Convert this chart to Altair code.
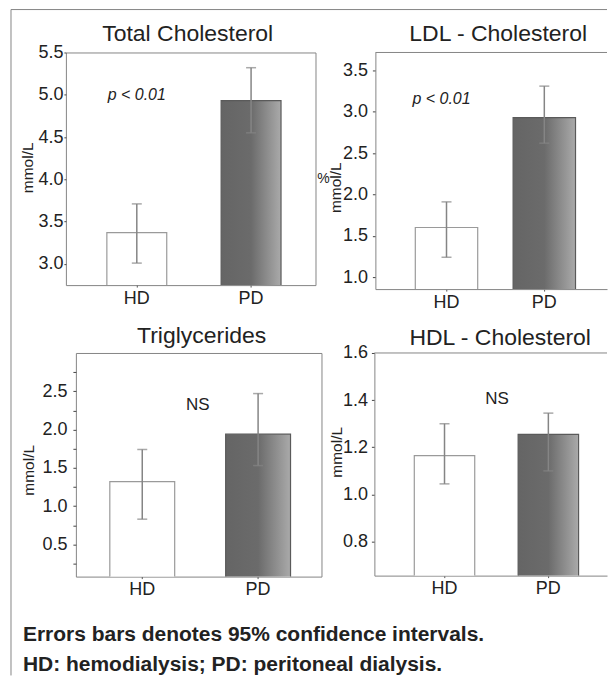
import altair as alt
import pandas as pd

# ---------------- data ----------------
groups = ["HD", "PD"]

tc_mean = [3.37, 4.93]
tc_low = [3.01, 4.55]
tc_high = [3.71, 5.32]

ldl_mean = [1.60, 2.93]
ldl_low = [1.24, 2.62]
ldl_high = [1.91, 3.31]

tg_mean = [1.32, 1.94]
tg_low = [0.83, 1.53]
tg_high = [1.74, 2.47]

hdl_mean = [1.165, 1.255]
hdl_low = [1.045, 1.10]
hdl_high = [1.30, 1.345]

tc_ticks = [3.0, 3.5, 4.0, 4.5, 5.0, 5.5]
ldl_ticks = [1.0, 1.5, 2.0, 2.5, 3.0, 3.5]
tg_ticks = [0.25, 0.5, 0.75, 1.0, 1.25, 1.5, 1.75, 2.0, 2.25, 2.5, 2.75]
hdl_ticks = [0.8, 1.0, 1.2, 1.4, 1.6]

titles = ["Total Cholesterol", "LDL - Cholesterol", "Triglycerides", "HDL - Cholesterol"]
notes = ["p < 0.01", "p < 0.01", "NS", "NS"]
note_values = [5.0, 3.15, 2.32, 1.405]
unit = "mmol/L"
stray_mark = "%"
footnotes = ["Errors bars denotes 95% confidence intervals.",
             "HD: hemodialysis; PD: peritoneal dialysis."]

# ---------------- style ----------------
FONT = "Liberation Sans"
FRAME = "#858585"
TXT = "#222222"
ERR = "#858585"
GRAD = alt.LinearGradient(
    gradient="linear",
    stops=[alt.GradientStop(color="#656565", offset=0),
           alt.GradientStop(color="#6b6b6b", offset=0.5),
           alt.GradientStop(color="#8e8e8e", offset=0.78),
           alt.GradientStop(color="#aaaaaa", offset=1)],
    x1=0, x2=1, y1=0, y2=0)

one = pd.DataFrame({"k": [0]})


def panel(i, mean, low, high, ydom, ticks, w, h, band, ypad, ytitle_xy,
          xlab_pad, title_xy, note_dx, note_size, note_style,
          label_expr=None, extra=(), open_right=False):
    df = pd.DataFrame({"group": groups, "mean": mean, "low": low, "high": high})
    xs = alt.Scale(domain=groups, paddingInner=band[0], paddingOuter=band[1], align=band[2])
    xax = alt.Axis(title=None, labelAngle=0, domain=open_right, domainColor=FRAME,
                   domainWidth=1, grid=False, tickSize=2,
                   tickColor="#555555", labelPadding=xlab_pad, labelFont=FONT,
                   labelFontSize=18, labelColor=TXT)
    ys = alt.Scale(domain=ydom, zero=False, nice=False)
    yk = dict(title=unit, values=ticks, format=".1f", domain=open_right,
              domainColor=FRAME, domainWidth=1, grid=False,
              tickSize=ypad[0], labelPadding=ypad[1], tickColor="#444444",
              labelFont=FONT, labelFontSize=18, labelColor=TXT,
              titleFont=FONT, titleFontSize=15.5, titleFontWeight="normal",
              titleColor=TXT, titleX=ytitle_xy[0], titleY=ytitle_xy[1],
              titleAngle=270, titleAlign="center", titleBaseline="middle")
    if label_expr:
        yk["labelExpr"] = label_expr
    yax = alt.Axis(**yk)
    X = alt.X("group:N", scale=xs, axis=xax)

    def Y(f):
        return alt.Y(f, scale=ys, axis=yax)

    base = alt.Chart(df)
    hd = base.transform_filter("datum.group == 'HD'").mark_bar(
        fill="white", stroke="#9a9a9a", strokeWidth=1.2, clip=True
    ).encode(x=X, y=Y("mean:Q"))
    pdb = base.transform_filter("datum.group == 'PD'").mark_bar(
        fill=GRAD, stroke="#5a5a5a", strokeWidth=1.2, clip=True
    ).encode(x=X, y=Y("mean:Q"))
    rule = base.mark_rule(color=ERR, strokeWidth=1.5).encode(x=X, y=Y("low:Q"), y2="high:Q")
    cap_lo = base.mark_tick(color=ERR, size=10, thickness=1.5).encode(x=X, y=Y("low:Q"))
    cap_hi = base.mark_tick(color=ERR, size=10, thickness=1.5).encode(x=X, y=Y("high:Q"))
    ndf = pd.DataFrame({"group": [groups[0]], "v": [note_values[i]], "label": [notes[i]]})
    note = alt.Chart(ndf).mark_text(
        font=FONT, fontSize=note_size, fontStyle=note_style, color=TXT, dx=note_dx,
        baseline="middle", align="center"
    ).encode(x=X, y=Y("v:Q"), text="label:N")
    ttl = alt.Chart(one).mark_text(
        text=titles[i], font=FONT, fontSize=23, color=TXT, align="center",
        baseline="alphabetic"
    ).encode(x=alt.value(title_xy[0]), y=alt.value(title_xy[1]))
    layers = [hd, pdb, rule, cap_lo, cap_hi, note, ttl, *extra]
    props = dict(width=w, height=h)
    if open_right:
        top_edge = alt.Chart(one).mark_rule(color=FRAME, strokeWidth=1).encode(
            x=alt.value(0), x2=alt.value(w), y=alt.value(0))
        layers.append(top_edge)
        props["view"] = alt.ViewBackground(stroke=None)
    return alt.layer(*layers).properties(**props)


frame_left = alt.Chart(one).mark_rule(color=FRAME, strokeWidth=1).encode(
    x=alt.value(-55), y=alt.value(-43), y2=alt.value(624))
frame_top = alt.Chart(one).mark_rule(color=FRAME, strokeWidth=1).encode(
    x=alt.value(-55), x2=alt.value(542), y=alt.value(-43))

pct = alt.Chart(one).mark_text(text=stray_mark, font=FONT, fontSize=14, color=TXT).encode(
    x=alt.value(-52), y=alt.value(127))

foot1 = alt.Chart(one).mark_text(text=footnotes[0], font=FONT, fontSize=21, fontWeight="bold",
                                 color=TXT, align="left", baseline="alphabetic").encode(
    x=alt.value(-53), y=alt.value(288))
foot2 = alt.Chart(one).mark_text(text=footnotes[1], font=FONT, fontSize=21, fontWeight="bold",
                                 color=TXT, align="left", baseline="alphabetic").encode(
    x=alt.value(-53), y=alt.value(319))

p1 = panel(0, tc_mean, tc_low, tc_high, [2.75, 5.5], tc_ticks, 250, 233,
           (0.476, 0.33, 0.543), (2, 1), (-38.5, 115), 2, (122, -12),
           0, 16, "italic", extra=(frame_left, frame_top))
p2 = panel(1, ldl_mean, ldl_low, ldl_high, [0.855, 3.717], ldl_ticks, 232, 237,
           (0.362, 0.365, 0.559), (3, 5), (-39.5, 135), 2, (123, -12),
           -5, 16, "italic", extra=(pct,), open_right=True)
p3 = panel(2, tg_mean, tg_low, tg_high, [0.08, 3.0], tg_ticks, 246, 224,
           (0.44, 0.28, 0.523), (3, 6), (-47, 117), 2, (126, -10),
           55.5, 17, "normal",
           label_expr="(round(datum.value * 4) % 2 == 0) ? format(datum.value, '.1f') : ''",
           extra=(foot1, foot2))
p4 = panel(3, hdl_mean, hdl_low, hdl_high, [0.656, 1.6], hdl_ticks, 233, 223,
           (0.418, 0.329, 0.584), (3, 4), (-37.5, 99), 2, (126, -8),
           52.5, 17, "normal", open_right=True)


def spacer(w, h=1):
    return alt.Chart(one).mark_point(opacity=0, size=1).encode(
        x=alt.value(0), y=alt.value(0)).properties(width=w, height=h, view=alt.ViewBackground(stroke=None))


row1 = alt.hconcat(p1, p2, spacing=60, bounds="flush")
row2 = alt.hconcat(spacer(10), p3, spacer(53), p4, spacing=0, bounds="flush")

chart = alt.vconcat(row1, spacer(1, 301), row2, spacing=0, bounds="flush").properties(
    padding={"left": 2, "top": 0, "right": 0, "bottom": 0},
    autosize=alt.AutoSizeParams(type="pad"),
    background="white",
).configure_view(stroke=FRAME, strokeWidth=1)

chart.save("out.html", embed_options={"renderer": "svg", "actions": False})
